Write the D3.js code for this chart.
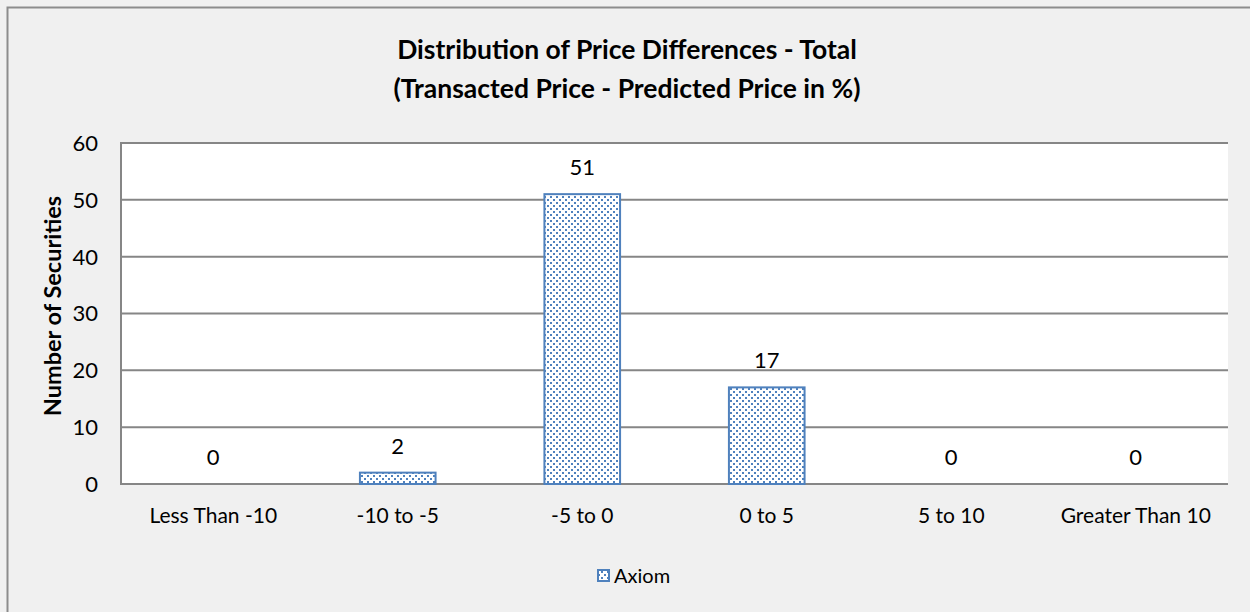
<!DOCTYPE html>
<meta charset="utf-8">
<style>
body{margin:0;background:#f0f0f0;}
svg{display:block}
text{font-family:Lato, "Open Sans", sans-serif;fill:#000;}
</style>
<svg id="chart" width="1250" height="612"></svg>
<script src="https://d3js.org/d3.v7.min.js"></script>
<script>
// data
const categories = ['Less Than -10', '-10 to -5', '-5 to 0', '0 to 5', '5 to 10', 'Greater Than 10']
const axiom = [0, 2, 51, 17, 0, 0]
const yTicks = [0, 10, 20, 30, 40, 50, 60]
const titleLines = ['Distribution of Price Differences - Total', '(Transacted Price - Predicted Price in %)']

const svg = d3.select('#chart')
const blue = '#4f81bd'

// dotted fill like the excel pattern
const pat = svg.append('defs').append('pattern')
  .attr('id', 'dots').attr('patternUnits', 'userSpaceOnUse')
  .attr('width', 6).attr('height', 6)
pat.append('rect').attr('width', 6).attr('height', 6).attr('fill', '#fff')
pat.append('rect').attr('x', 1).attr('y', 1).attr('width', 2).attr('height', 2).attr('fill', blue)
pat.append('rect').attr('x', 4).attr('y', 4).attr('width', 2).attr('height', 2).attr('fill', blue)

// outer frame, runs off the right and bottom edges
svg.append('rect').attr('x', 7.5).attr('y', 7.5).attr('width', 1260).attr('height', 620)
  .attr('fill', '#f0f0f0').attr('stroke', '#8c8c8c').attr('stroke-width', 2)

const m = {left: 121, right: 1228, top: 143, bottom: 484}

const x = d3.scaleBand().domain(categories).range([m.left, m.right]).paddingInner(0.59).paddingOuter(0.295)
const y = d3.scaleLinear().domain([0, 60]).range([m.bottom, m.top])

svg.append('rect').attr('x', m.left).attr('y', m.top)
  .attr('width', m.right - m.left).attr('height', m.bottom - m.top).attr('fill', '#fff')

// gridlines
svg.append('g').selectAll('line').data(yTicks).join('line')
  .attr('x1', m.left).attr('x2', m.right)
  .attr('y1', d => y(d)).attr('y2', d => y(d))
  .attr('stroke', '#868686').attr('stroke-width', 2)

svg.append('line').attr('x1', m.left).attr('x2', m.left).attr('y1', m.top - 1).attr('y2', m.bottom + 1)
  .attr('stroke', '#868686').attr('stroke-width', 2)

// y tick labels
svg.append('g').selectAll('text').data(yTicks).join('text')
  .attr('x', 98).attr('y', d => y(d)).attr('dy', '0.36em')
  .attr('text-anchor', 'end').style('font-size', '22px').text(d => d)

// x labels
svg.append('g').selectAll('text').data(categories).join('text')
  .attr('x', d => x(d) + x.bandwidth() / 2).attr('y', 523)
  .attr('text-anchor', 'middle').style('font-size', '21px').text(d => d)

// bars
svg.append('g').selectAll('rect').data(axiom).join('rect')
  .attr('x', (d, i) => x(categories[i])).attr('width', x.bandwidth())
  .attr('y', d => y(d)).attr('height', d => y(0) - y(d))
  .attr('fill', 'url(#dots)').attr('stroke', blue).attr('stroke-width', 2)
  .style('display', d => d ? null : 'none')

// value labels
svg.append('g').selectAll('text').data(axiom).join('text')
  .attr('x', (d, i) => x(categories[i]) + x.bandwidth() / 2).attr('y', d => y(d) - 19)
  .attr('text-anchor', 'middle').style('font-size', '22px').text(d => d)

// title
svg.append('g').selectAll('text').data(titleLines).join('text')
  .attr('x', 627).attr('y', (d, i) => 59 + i * 39)
  .attr('text-anchor', 'middle').style('font-size', '26.5px').style('font-weight', 'bold')
  .text(d => d)

// y title
svg.append('text').attr('transform', 'translate(61,306) rotate(-90)')
  .attr('text-anchor', 'middle').style('font-size', '23.5px').style('font-weight', 'bold')
  .text('Number of Securities')

// legend
svg.append('rect').attr('x', 598).attr('y', 570).attr('width', 11).attr('height', 11)
  .attr('fill', 'url(#dots)').attr('stroke', blue).attr('stroke-width', 2)
svg.append('text').attr('x', 614).attr('y', 576).attr('dy', '0.36em')
  .style('font-size', '20px').text('Axiom')
</script>
